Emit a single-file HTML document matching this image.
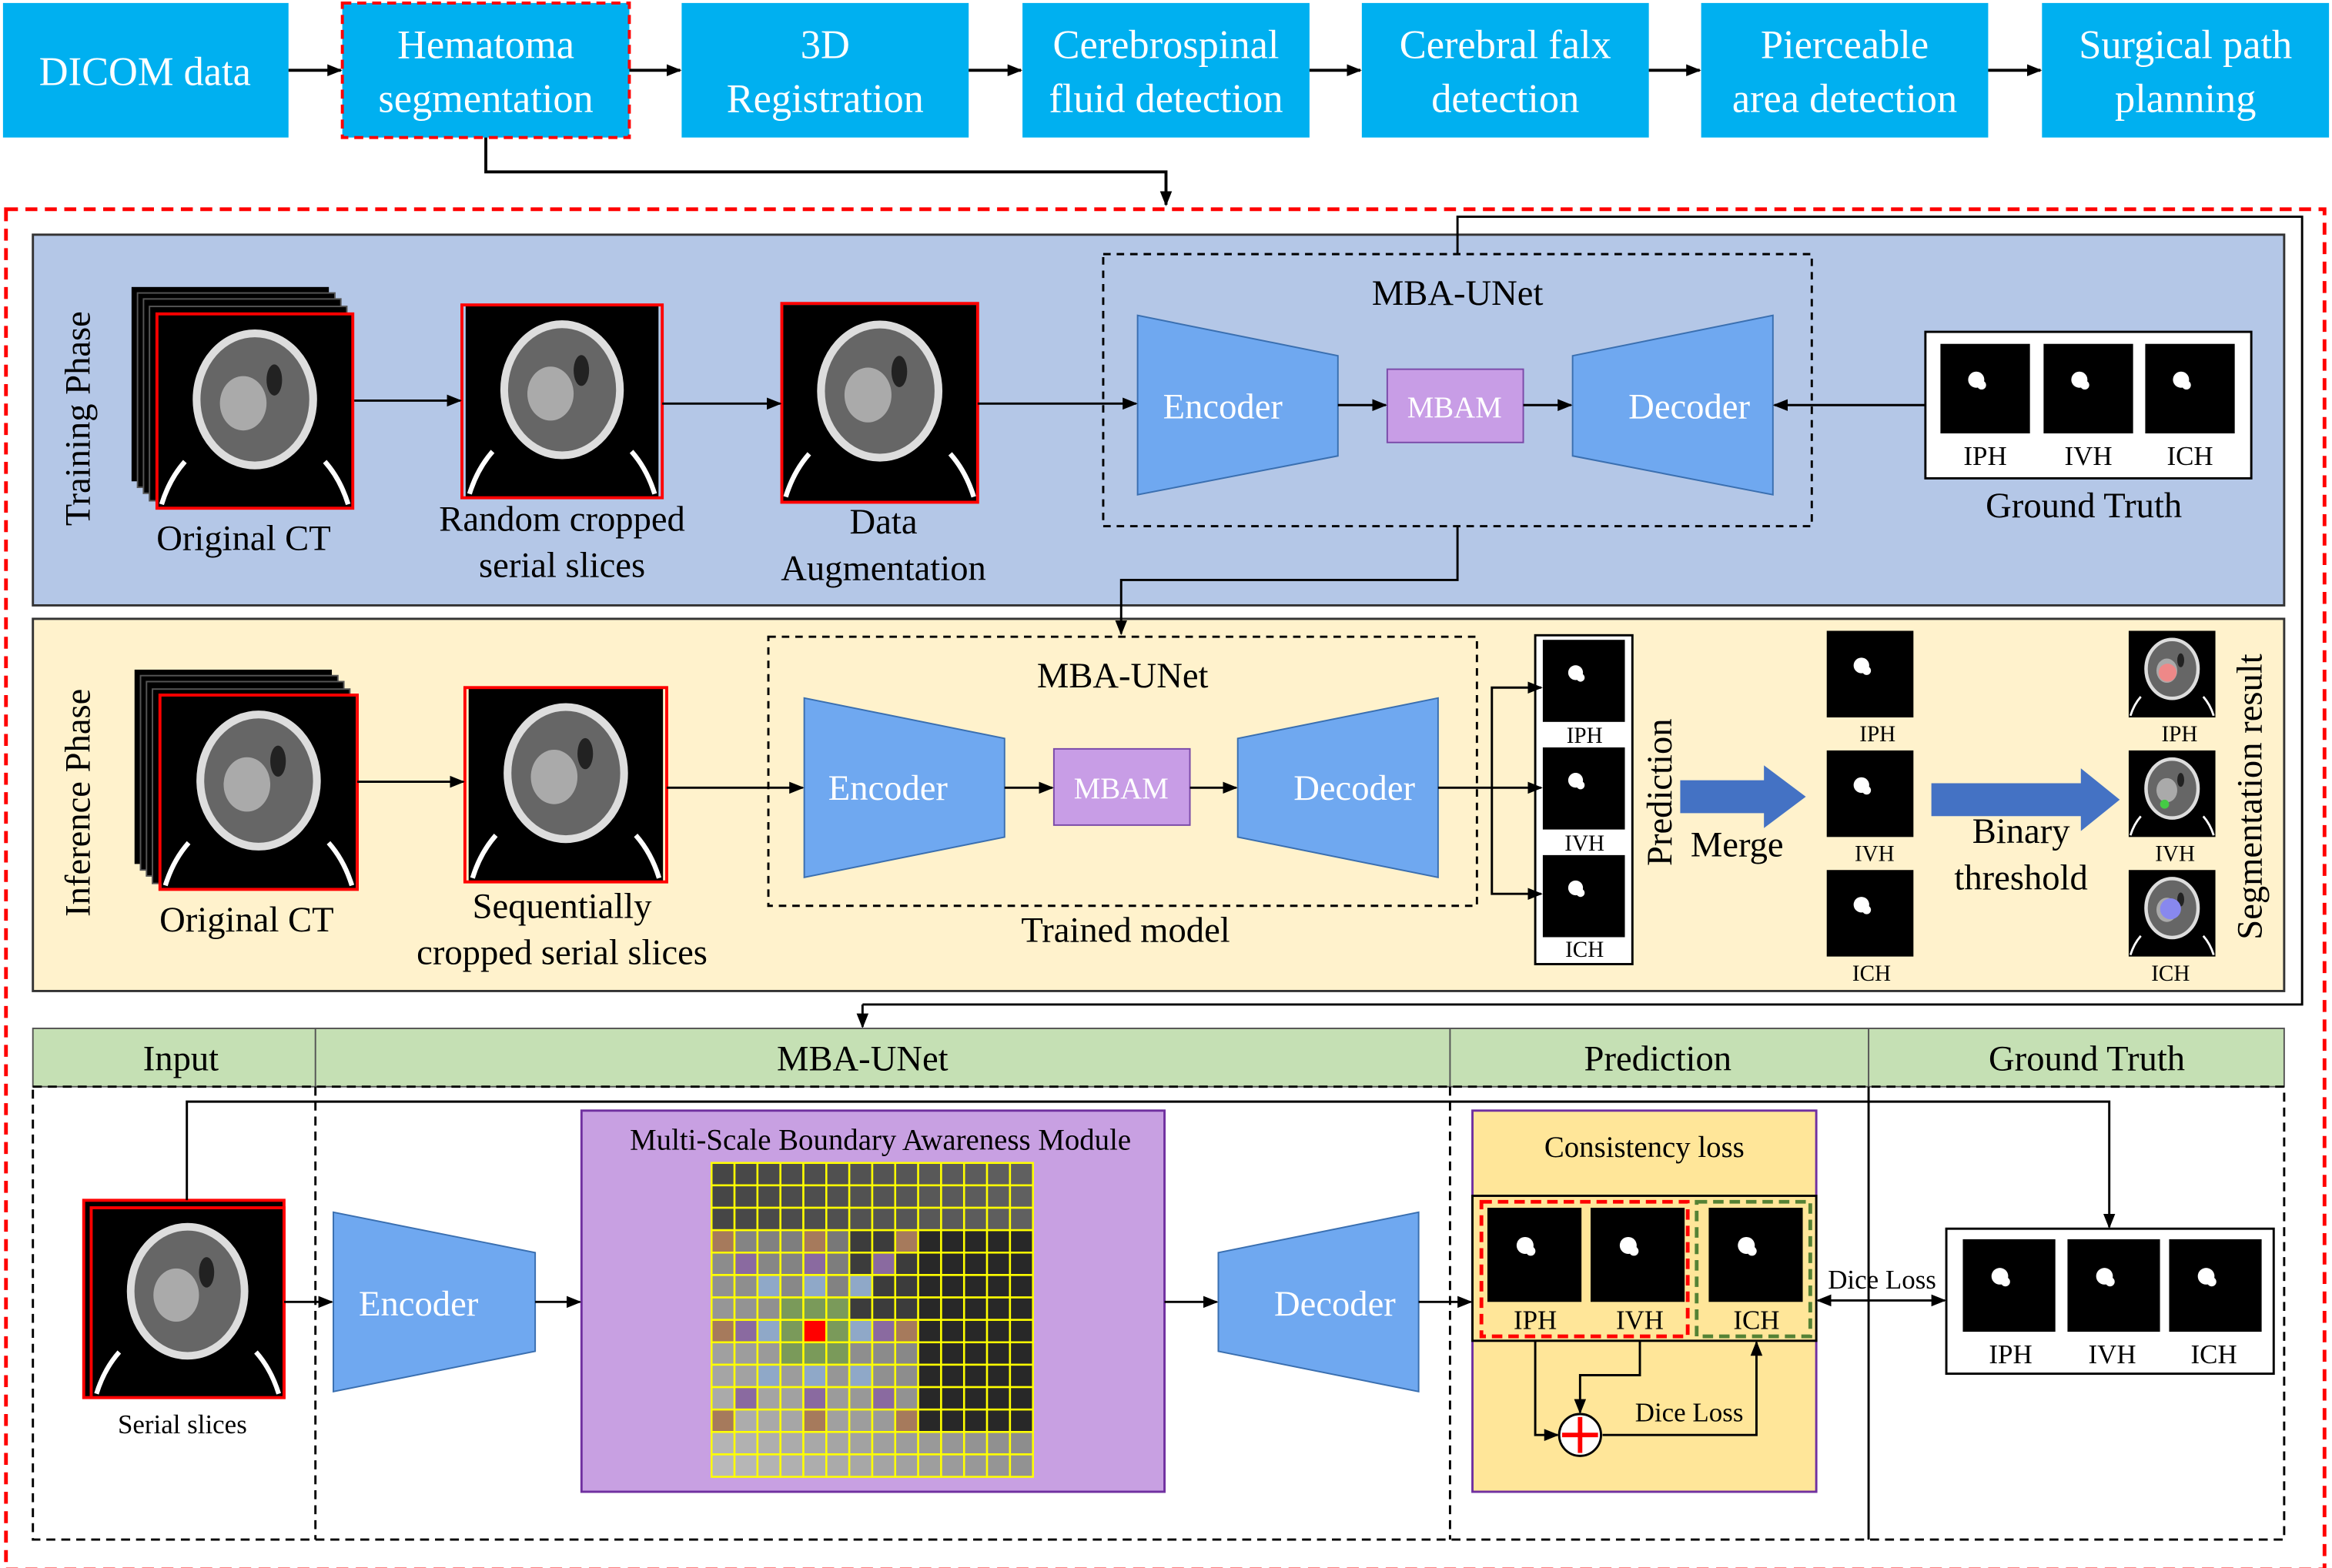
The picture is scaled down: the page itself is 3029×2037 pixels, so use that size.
<!DOCTYPE html>
<html><head><meta charset="utf-8"><style>
html,body{margin:0;padding:0;background:#fff}
svg{display:block}
text{font-family:"Liberation Serif",serif}
</style></head><body>
<svg id="s" width="3029" height="2037" viewBox="0 0 1560 1049" preserveAspectRatio="none" xmlns="http://www.w3.org/2000/svg">
<defs>
<marker id="a" markerWidth="10" markerHeight="10" refX="9" refY="5" orient="auto" markerUnits="userSpaceOnUse"><path d="M0,1 L10,5 L0,9 z" fill="#000"/></marker>
<marker id="as" markerWidth="10" markerHeight="10" refX="1" refY="5" orient="auto" markerUnits="userSpaceOnUse"><path d="M10,1 L0,5 L10,9 z" fill="#000"/></marker>
<symbol id="br" viewBox="0 0 100 100"><rect width="100" height="100" fill="#000"/><ellipse cx="50" cy="44" rx="30" ry="34" fill="#666" stroke="#ddd" stroke-width="4"/><ellipse cx="44" cy="46" rx="12" ry="14" fill="#aaa"/><ellipse cx="60" cy="34" rx="4" ry="8" fill="#222"/><path d="M2,98 Q6,85 14,76" stroke="#fff" stroke-width="2.5" fill="none"/><path d="M98,98 Q94,85 86,76" stroke="#fff" stroke-width="2.5" fill="none"/></symbol>
<symbol id="ms" viewBox="0 0 100 100"><rect width="100" height="100" fill="#000"/><circle cx="40" cy="40" r="9" fill="#fff"/><circle cx="46" cy="46" r="5" fill="#fff"/></symbol>
</defs>
<g font-size="27" text-anchor="middle" fill="#fff">
<rect x="2" y="2" width="191" height="90" fill="#00B0F0"/><text x="97" y="57" fill="#fff">DICOM data</text>
<rect x="229" y="2" width="192" height="90" fill="#00B0F0" stroke="#f00" stroke-width="2" stroke-dasharray="6,4"/><text x="325" y="39" fill="#fff">Hematoma</text><text x="325" y="75" fill="#fff">segmentation</text>
<rect x="456" y="2" width="192" height="90" fill="#00B0F0"/><text x="552" y="39" fill="#fff">3D</text><text x="552" y="75" fill="#fff">Registration</text>
<rect x="684" y="2" width="192" height="90" fill="#00B0F0"/><text x="780" y="39" fill="#fff">Cerebrospinal</text><text x="780" y="75" fill="#fff">fluid detection</text>
<rect x="911" y="2" width="192" height="90" fill="#00B0F0"/><text x="1007" y="39" fill="#fff">Cerebral falx</text><text x="1007" y="75" fill="#fff">detection</text>
<rect x="1138" y="2" width="192" height="90" fill="#00B0F0"/><text x="1234" y="39" fill="#fff">Pierceable</text><text x="1234" y="75" fill="#fff">area detection</text>
<rect x="1366" y="2" width="192" height="90" fill="#00B0F0"/><text x="1462" y="39" fill="#fff">Surgical path</text><text x="1462" y="75" fill="#fff">planning</text>
</g>
<g stroke="#000" stroke-width="2" fill="none" marker-end="url(#a)">
<line x1="193" y1="47" x2="228" y2="47"/><line x1="421" y1="47" x2="455" y2="47"/><line x1="648" y1="47" x2="683" y2="47"/><line x1="876" y1="47" x2="910" y2="47"/><line x1="1103" y1="47" x2="1137" y2="47"/><line x1="1330" y1="47" x2="1365" y2="47"/>
<polyline points="325,92 325,115 780,115 780,137"/>
</g>
<rect x="4" y="140" width="1551" height="910" fill="none" stroke="#f00" stroke-width="2.5" stroke-dasharray="8,5"/>
<rect x="22" y="157" width="1506" height="248" fill="#B4C7E7" stroke="#333" stroke-width="1.5"/>
<rect x="22" y="414" width="1506" height="249" fill="#FFF2CC" stroke="#333" stroke-width="1.5"/>
<g stroke="#000" stroke-width="1.5" fill="none">
<polyline points="975,170 975,145 1540,145 1540,672 577,672" /><line x1="577" y1="672" x2="577" y2="687" marker-end="url(#a)"/>
<polyline points="975,352 975,388 750,388 750,424" marker-end="url(#a)"/>
</g>
<g font-size="24" text-anchor="middle" fill="#000">
<text transform="translate(60,280) rotate(-90)">Training Phase</text>
<rect x="88" y="192" width="132" height="130" fill="#000"/><rect x="92" y="196" width="132" height="130" fill="#000" stroke="#555"/><rect x="96" y="200" width="132" height="130" fill="#000" stroke="#555"/><rect x="100" y="205" width="132" height="130" fill="#000" stroke="#555"/>
<use href="#br" x="105" y="210" width="131" height="130"/><rect x="105" y="210" width="131" height="130" fill="none" stroke="#f00" stroke-width="2"/>
<text x="163" y="368">Original CT</text>
<use href="#br" x="309" y="204" width="134" height="129"/><rect x="309" y="204" width="134" height="129" fill="none" stroke="#f00" stroke-width="2"/>
<text x="376" y="355">Random cropped</text><text x="376" y="386">serial slices</text>
<use href="#br" x="523" y="203" width="131" height="133"/><rect x="523" y="203" width="131" height="133" fill="none" stroke="#f00" stroke-width="2"/>
<text x="591" y="357">Data</text><text x="591" y="388">Augmentation</text>
<rect x="738" y="170" width="474" height="182" fill="none" stroke="#000" stroke-width="1.5" stroke-dasharray="5,4"/>
<text x="975" y="204">MBA-UNet</text>
<polygon points="761,211 895,238 895,305 761,331" fill="#6FA8F0" stroke="#3a6fb0"/>
<text x="818" y="280" fill="#fff">Encoder</text>
<rect x="928" y="247" width="91" height="49" fill="#C89DE6" stroke="#7a4aa8"/><text x="973" y="279" fill="#fff" font-size="20">MBAM</text>
<polygon points="1052,238 1186,211 1186,331 1052,305" fill="#6FA8F0" stroke="#3a6fb0"/>
<text x="1130" y="280" fill="#fff">Decoder</text>
<rect x="1288" y="222" width="218" height="98" fill="#fff" stroke="#000" stroke-width="1.5"/>
<use href="#ms" x="1298" y="230" width="60" height="60"/><use href="#ms" x="1367" y="230" width="60" height="60"/><use href="#ms" x="1435" y="230" width="60" height="60"/>
<text x="1328" y="311" font-size="18">IPH</text><text x="1397" y="311" font-size="18">IVH</text><text x="1465" y="311" font-size="18">ICH</text>
<text x="1394" y="346">Ground Truth</text>
<text transform="translate(60,537) rotate(-90)">Inference Phase</text>
<rect x="90" y="448" width="132" height="130" fill="#000"/><rect x="94" y="452" width="132" height="130" fill="#000" stroke="#555"/><rect x="98" y="456" width="132" height="130" fill="#000" stroke="#555"/><rect x="102" y="461" width="132" height="130" fill="#000" stroke="#555"/>
<use href="#br" x="107" y="465" width="132" height="130"/><rect x="107" y="465" width="132" height="130" fill="none" stroke="#f00" stroke-width="2"/>
<text x="165" y="623">Original CT</text>
<use href="#br" x="311" y="460" width="135" height="130"/><rect x="311" y="460" width="135" height="130" fill="none" stroke="#f00" stroke-width="2"/>
<text x="376" y="614">Sequentially</text><text x="376" y="645">cropped serial slices</text>
<rect x="514" y="426" width="474" height="180" fill="none" stroke="#000" stroke-width="1.5" stroke-dasharray="5,4"/>
<text x="751" y="460">MBA-UNet</text>
<polygon points="538,467 672,494 672,560 538,587" fill="#6FA8F0" stroke="#3a6fb0"/>
<text x="594" y="535" fill="#fff">Encoder</text>
<rect x="705" y="501" width="91" height="51" fill="#C89DE6" stroke="#7a4aa8"/><text x="750" y="534" fill="#fff" font-size="20">MBAM</text>
<polygon points="828,494 962,467 962,587 828,560" fill="#6FA8F0" stroke="#3a6fb0"/>
<text x="906" y="535" fill="#fff">Decoder</text>
<text x="753" y="630">Trained model</text>
<rect x="1027" y="425" width="65" height="220" fill="#fff" stroke="#000" stroke-width="1.5"/>
<use href="#ms" x="1032" y="428" width="55" height="55"/><use href="#ms" x="1032" y="500" width="55" height="55"/><use href="#ms" x="1032" y="572" width="55" height="55"/>
<text x="1060" y="497" font-size="15">IPH</text><text x="1060" y="569" font-size="15">IVH</text><text x="1060" y="640" font-size="15">ICH</text>
<text transform="translate(1118,530) rotate(-90)">Prediction</text>
<polygon points="1124,522 1180,522 1180,512 1208,533 1180,554 1180,544 1124,544" fill="#4472C4"/>
<text x="1162" y="573">Merge</text>
<use href="#ms" x="1220" y="422" width="62" height="58"/><use href="#ms" x="1220" y="502" width="62" height="58"/><use href="#ms" x="1220" y="582" width="62" height="58"/>
<text x="1256" y="496" font-size="15">IPH</text><text x="1254" y="576" font-size="15">IVH</text><text x="1252" y="656" font-size="15">ICH</text>
<polygon points="1292,524 1392,524 1392,514 1418,535 1392,556 1392,546 1292,546" fill="#4472C4"/>
<text x="1352" y="564">Binary</text><text x="1352" y="595">threshold</text>
<use href="#br" x="1422" y="422" width="62" height="58"/><use href="#br" x="1422" y="502" width="62" height="58"/><use href="#br" x="1422" y="582" width="62" height="58"/>
<circle cx="1450" cy="450" r="6" fill="#e88"/><circle cx="1448" cy="538" r="3" fill="#4c4"/><circle cx="1452" cy="608" r="7" fill="#88e"/>
<text x="1458" y="496" font-size="15">IPH</text><text x="1455" y="576" font-size="15">IVH</text><text x="1452" y="656" font-size="15">ICH</text>
<text transform="translate(1513,533) rotate(-90)">Segmentation result</text>
</g>
<g stroke="#000" stroke-width="1.5" fill="none" marker-end="url(#a)">
<line x1="237" y1="268" x2="308" y2="268"/><line x1="443" y1="270" x2="522" y2="270"/><line x1="654" y1="270" x2="760" y2="270"/><line x1="895" y1="271" x2="927" y2="271"/><line x1="1019" y1="271" x2="1051" y2="271"/><line x1="1288" y1="271" x2="1187" y2="271"/>
<line x1="239" y1="523" x2="310" y2="523"/><line x1="446" y1="527" x2="537" y2="527"/><line x1="672" y1="527" x2="704" y2="527"/><line x1="796" y1="527" x2="827" y2="527"/>
<polyline points="962,527 998,527 998,460 1031,460"/><line x1="998" y1="527" x2="1031" y2="527"/><polyline points="998,527 998,598 1031,598"/>
</g>
<g font-size="24" text-anchor="middle" fill="#000">
<rect x="22" y="688" width="1506" height="39" fill="#C5E0B4" stroke="#555"/>
<line x1="211" y1="688" x2="211" y2="727" stroke="#555"/><line x1="970" y1="688" x2="970" y2="727" stroke="#555"/><line x1="1250" y1="688" x2="1250" y2="727" stroke="#555"/>
<text x="121" y="716">Input</text><text x="577" y="716">MBA-UNet</text><text x="1109" y="716">Prediction</text><text x="1396" y="716">Ground Truth</text>
<g fill="none" stroke="#000" stroke-width="1.5" stroke-dasharray="6,4"><rect x="22" y="727" width="1506" height="303"/><line x1="211" y1="727" x2="211" y2="1030"/><line x1="970" y1="727" x2="970" y2="1030"/></g>
<line x1="1250" y1="727" x2="1250" y2="1030" stroke="#000" stroke-width="1.5"/>
<rect x="56" y="803" width="134" height="132" fill="#000" stroke="#f00" stroke-width="2"/>
<use href="#br" x="61" y="808" width="129" height="127"/><rect x="61" y="808" width="129" height="127" fill="none" stroke="#f00" stroke-width="2"/>
<text x="122" y="959" font-size="18">Serial slices</text>
<polygon points="223,811 358,838 358,904 223,931" fill="#6FA8F0" stroke="#3a6fb0"/><text x="280" y="880" fill="#fff">Encoder</text>
<rect x="389" y="743" width="390" height="255" fill="#C8A0E2" stroke="#7030A0" stroke-width="1.5"/>
<text x="589" y="769" font-size="20">Multi-Scale Boundary Awareness Module</text>
<g id="grid"></g>
<polygon points="815,838 949,811 949,931 815,904" fill="#6FA8F0" stroke="#3a6fb0"/><text x="893" y="880" fill="#fff">Decoder</text>
<rect x="985" y="743" width="230" height="255" fill="#FFE699" stroke="#7030A0" stroke-width="1.5"/>
<text x="1100" y="774" font-size="20">Consistency loss</text>
<rect x="985" y="800" width="230" height="97" fill="#FFE699" stroke="#000" stroke-width="1.5"/>
<rect x="991" y="804" width="138" height="90" fill="none" stroke="#f00" stroke-width="2.5" stroke-dasharray="7,4"/>
<rect x="1135" y="804" width="76" height="90" fill="none" stroke="#548235" stroke-width="2.5" stroke-dasharray="7,4"/>
<use href="#ms" x="995" y="808" width="63" height="63"/><use href="#ms" x="1064" y="808" width="63" height="63"/><use href="#ms" x="1143" y="808" width="63" height="63"/>
<text x="1027" y="889" font-size="18">IPH</text><text x="1097" y="889" font-size="18">IVH</text><text x="1175" y="889" font-size="18">ICH</text>
<circle cx="1057" cy="960" r="14" fill="#fff" stroke="#000" stroke-width="1.5"/>
<path d="M1045,960 H1069 M1057,948 V972" stroke="#f00" stroke-width="3"/>
<text x="1130" y="951" font-size="18">Dice Loss</text>
<text x="1259" y="862" font-size="18">Dice Loss</text>
<rect x="1302" y="822" width="219" height="97" fill="#fff" stroke="#000" stroke-width="1.5"/>
<use href="#ms" x="1313" y="829" width="62" height="62"/><use href="#ms" x="1383" y="829" width="62" height="62"/><use href="#ms" x="1451" y="829" width="62" height="62"/>
<text x="1345" y="912" font-size="18">IPH</text><text x="1413" y="912" font-size="18">IVH</text><text x="1481" y="912" font-size="18">ICH</text>
</g>
<g stroke="#000" stroke-width="1.5" fill="none">
<polyline points="125,803 125,737 1411,737 1411,821" marker-end="url(#a)"/>
<line x1="190" y1="871" x2="222" y2="871" marker-end="url(#a)"/><line x1="358" y1="871" x2="388" y2="871" marker-end="url(#a)"/>
<line x1="779" y1="871" x2="814" y2="871" marker-end="url(#a)"/><line x1="949" y1="871" x2="984" y2="871" marker-end="url(#a)"/>
<line x1="1216" y1="870" x2="1301" y2="870" marker-end="url(#a)" marker-start="url(#as)"/>
<polyline points="1027,897 1027,960 1042,960" marker-end="url(#a)"/>
<polyline points="1097,897 1097,920 1057,920 1057,945" marker-end="url(#a)"/>
<polyline points="1072,960 1175,960 1175,898" marker-end="url(#a)"/>
</g>
</svg>
<script>
(function(){
var g=document.getElementById('grid');
var x0=476,y0=778,cw=215/14,ch=210/14,s='';
for(var r=0;r<14;r++)for(var c=0;c<14;c++){
var v;
if(r<3)v=70+c*2;
else if(c>=9&&r<12)v=40;
else if(c>=6&&r<7)v=60;
else v=Math.min(185,120+r*5-c*3);
var col='rgb('+v+','+v+','+v+')';
var br=[3,7,11],pu=[4,7,10],bl=[5,7,9];
if(br.indexOf(r)>=0&&[0,4,8].indexOf(c)>=0)col='#a67a5c';
if(pu.indexOf(r)>=0&&[1,4,7].indexOf(c)>=0)col='#8a6aa0';
if(bl.indexOf(r)>=0&&[2,4,6].indexOf(c)>=0)col='#8fa8c8';
if(r>=6&&r<=8&&c>=3&&c<=5)col='#7a9a5a';
if(r==7&&c==4)col='#ff0000';
s+='<rect x="'+(x0+c*cw)+'" y="'+(y0+r*ch)+'" width="'+cw+'" height="'+ch+'" fill="'+col+'" stroke="#ff0" stroke-width="1.3"/>';
}
g.innerHTML=s;
})();
</script>
</body></html>
